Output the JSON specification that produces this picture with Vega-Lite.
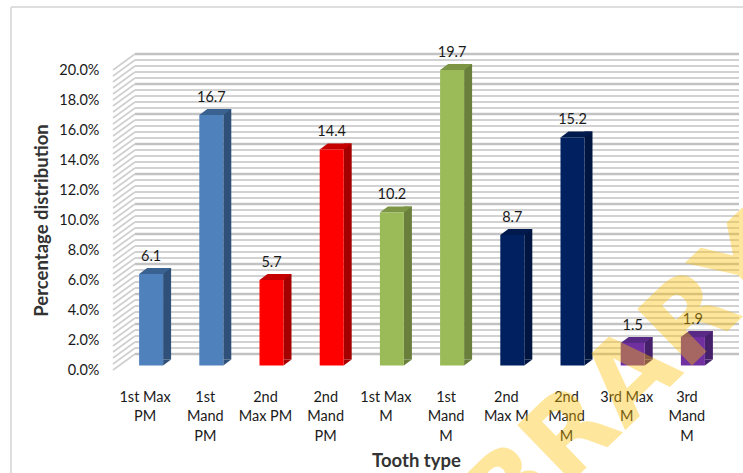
{"$schema":"https://vega.github.io/schema/vega-lite/v6.json","width":602,"height":300,"autosize":"none","padding":{"left":115,"right":26,"top":70,"bottom":103},"background":"white","config":{"view":{"stroke":null},"font":"Lato","axis":{"labelOverlap":false}},
"datasets":{"teeth":[
{"tooth":"1st Max PM","pct":6.1,"group":"1st PM"},
{"tooth":"1st Mand PM","pct":16.7,"group":"1st PM"},
{"tooth":"2nd Max PM","pct":5.7,"group":"2nd PM"},
{"tooth":"2nd Mand PM","pct":14.4,"group":"2nd PM"},
{"tooth":"1st Max M","pct":10.2,"group":"1st M"},
{"tooth":"1st Mand M","pct":19.7,"group":"1st M"},
{"tooth":"2nd Max M","pct":8.7,"group":"2nd M"},
{"tooth":"2nd Mand M","pct":15.2,"group":"2nd M"},
{"tooth":"3rd Max M","pct":1.5,"group":"3rd M"},
{"tooth":"3rd Mand M","pct":1.9,"group":"3rd M"}],
"grid":[{"v":0,"k":"a"},{"v":0.4,"k":"b"},{"v":0.8,"k":"b"},{"v":1.2,"k":"b"},{"v":1.6,"k":"b"},{"v":2,"k":"a"},{"v":2.4,"k":"b"},{"v":2.8,"k":"b"},{"v":3.2,"k":"b"},{"v":3.6,"k":"b"},{"v":4,"k":"a"},{"v":4.4,"k":"b"},{"v":4.8,"k":"b"},{"v":5.2,"k":"b"},{"v":5.6,"k":"b"},{"v":6,"k":"a"},{"v":6.4,"k":"b"},{"v":6.8,"k":"b"},{"v":7.2,"k":"b"},{"v":7.6,"k":"b"},{"v":8,"k":"a"},{"v":8.4,"k":"b"},{"v":8.8,"k":"b"},{"v":9.2,"k":"b"},{"v":9.6,"k":"b"},{"v":10,"k":"a"},{"v":10.4,"k":"b"},{"v":10.8,"k":"b"},{"v":11.2,"k":"b"},{"v":11.6,"k":"b"},{"v":12,"k":"a"},{"v":12.4,"k":"b"},{"v":12.8,"k":"b"},{"v":13.2,"k":"b"},{"v":13.6,"k":"b"},{"v":14,"k":"a"},{"v":14.4,"k":"b"},{"v":14.8,"k":"b"},{"v":15.2,"k":"b"},{"v":15.6,"k":"b"},{"v":16,"k":"a"},{"v":16.4,"k":"b"},{"v":16.8,"k":"b"},{"v":17.2,"k":"b"},{"v":17.6,"k":"b"},{"v":18,"k":"a"},{"v":18.4,"k":"b"},{"v":18.8,"k":"b"},{"v":19.2,"k":"b"},{"v":19.6,"k":"b"},{"v":20,"k":"a"}]},
"resolve":{"scale":{"color":"independent"}},
"layer":[
{"data":{"name":"grid"},"mark":{"type":"rule","yOffset":-16},"encoding":{"x":{"value":20},"x2":{"value":624},"y":{"field":"v","type":"quantitative","scale":{"domain":[0,20]},"axis":{"labelExpr":"format(datum.value/100,'.1%')","tickCount":10,"labelOverlap":false,"labelBound":false,"title":"Percentage distribution","titleFont":"Lato","titleFontSize":18.5,"titleFontWeight":"bold","titleColor":"#333333","titleX":-64,"titleY":150,"labelFont":"Lato","labelFontSize":14.5,"labelColor":"#1a1a1a","labelPadding":16,"domain":false,"ticks":false,"grid":false}},"stroke":{"field":"k","type":"nominal","legend":null,"scale":{"domain":["a","b"],"range":["#c2c2c2","#d2d2d2"]}},"strokeWidth":{"field":"k","type":"nominal","legend":null,"scale":{"domain":["a","b"],"range":[2.6,2.2]}}}},
{"data":{"name":"grid"},"mark":{"type":"rule","y2Offset":-16,"stroke":"#cfcfcf","strokeWidth":1.6},"encoding":{"x":{"value":-2},"x2":{"value":20},"y":{"field":"v","type":"quantitative"},"y2":{"field":"v"}}},
{"data":{"name":"teeth"},"mark":{"type":"bar","width":8,"xOffset":22,"yOffset":-10.5,"y2Offset":-10.5},"encoding":{"x":{"field":"tooth","type":"nominal","sort":null,"scale":{"paddingInner":0,"paddingOuter":0},"axis":{"title":"Tooth type","titleFont":"Lato","titleFontSize":18.5,"titleFontWeight":"bold","titleColor":"#333333","titleX":301,"titleY":81,"labelAngle":0,"labelFont":"Lato","labelFontSize":14.5,"labelColor":"#1a1a1a","labelLineHeight":19.5,"labelPadding":27,"domain":false,"ticks":false,"labelBaseline":"middle","labelExpr":"{'1st Max PM':['1st Max','PM'],'1st Mand PM':['1st','Mand','PM'],'2nd Max PM':['2nd','Max PM'],'2nd Mand PM':['2nd','Mand','PM'],'1st Max M':['1st Max','M'],'1st Mand M':['1st','Mand','M'],'2nd Max M':['2nd','Max M'],'2nd Mand M':['2nd','Mand','M'],'3rd Max M':['3rd Max','M'],'3rd Mand M':['3rd','Mand','M']}[datum.label]"}},"y":{"field":"pct","type":"quantitative"},"y2":{"datum":0},"color":{"field":"group","type":"nominal","legend":null,"scale":{"domain":["1st PM","2nd PM","1st M","2nd M","3rd M"],"range":["#2f5078","#a50000","#6a7f3c","#001540","#47206b"]}}}},
{"data":{"name":"teeth"},"mark":{"type":"point","filled":true,"size":4,"strokeWidth":0,"opacity":1,"xOffset":6,"yOffset":-4.5,"shape":"M12,0L20,-6L12,-6Z"},"encoding":{"x":{"field":"tooth","type":"nominal","sort":null},"y":{"datum":0},"color":{"field":"group","type":"nominal","legend":null,"scale":{"domain":["1st PM","2nd PM","1st M","2nd M","3rd M"],"range":["#2f5078","#a50000","#6a7f3c","#001540","#47206b"]}}}},
{"data":{"name":"teeth"},"mark":{"type":"point","filled":true,"size":4,"strokeWidth":0,"opacity":1,"xOffset":6,"yOffset":-4.5,"shape":"M-12,0L12,0L20,-6L-4,-6Z"},"encoding":{"x":{"field":"tooth","type":"nominal","sort":null},"y":{"field":"pct","type":"quantitative"},"color":{"field":"group","type":"nominal","legend":null,"scale":{"domain":["1st PM","2nd PM","1st M","2nd M","3rd M"],"range":["#3a6290","#c40000","#7d9646","#001a4e","#582a85"]}}}},
{"data":{"name":"teeth"},"mark":{"type":"bar","width":24,"xOffset":6,"yOffset":-4.5,"y2Offset":-4.5},"encoding":{"x":{"field":"tooth","type":"nominal","sort":null},"y":{"field":"pct","type":"quantitative"},"y2":{"datum":0},"color":{"field":"group","type":"nominal","legend":null,"scale":{"domain":["1st PM","2nd PM","1st M","2nd M","3rd M"],"range":["#4f81bd","#ff0000","#9bbb59","#002060","#7030a0"]}}}},
{"data":{"name":"teeth"},"mark":{"type":"text","dx":6,"dy":-22,"fontSize":14.5,"font":"Lato","color":"#1a1a1a","baseline":"middle"},"encoding":{"x":{"field":"tooth","type":"nominal","sort":null},"y":{"field":"pct","type":"quantitative"},"text":{"field":"pct","type":"quantitative","format":".1f"}}},
{"data":{"values":[{"edge":"top"}]},"mark":{"type":"rule","stroke":"#dedede","strokeWidth":2},"encoding":{"x":{"value":-104},"x2":{"value":628},"y":{"value":-63}}},
{"data":{"values":[{"edge":"left"}]},"mark":{"type":"rule","stroke":"#dedede","strokeWidth":2},"encoding":{"x":{"value":-104},"y":{"value":-63},"y2":{"value":403}}},
{"data":{"values":[{"word":"LIBRARY"}]},"mark":{"type":"text","font":"DejaVu Sans","fontWeight":"bold","fontSize":108,"color":"#ffc000","opacity":0.38,"angle":316,"align":"center","baseline":"middle","dx":-18,"dy":52},"encoding":{"x":{"datum":"2nd Mand M","type":"nominal","sort":null},"y":{"datum":0,"type":"quantitative"},"text":{"field":"word"}}}
]}
